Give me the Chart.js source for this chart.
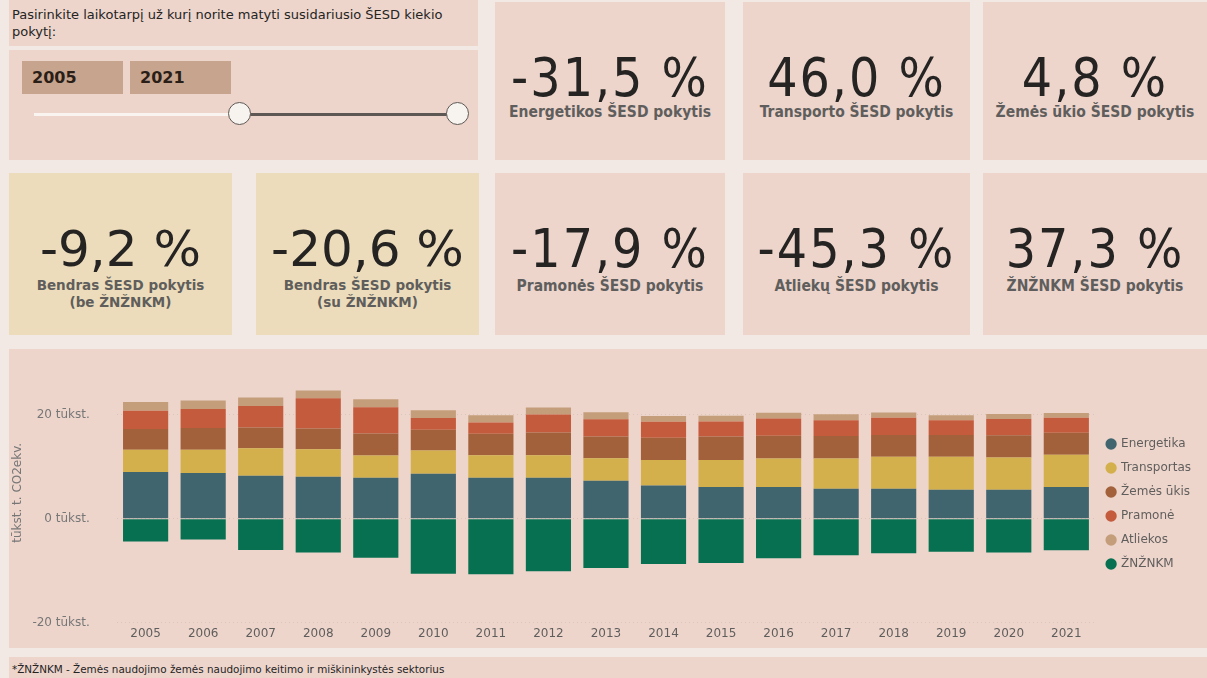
<!DOCTYPE html>
<html>
<head>
<meta charset="utf-8">
<script src="https://cdn.jsdelivr.net/npm/chart.js@4.4.1/dist/chart.umd.min.js"></script>
<style>
  html, body { margin:0; padding:0; }
  body { width:1207px; height:678px; background:#f3e9e4; position:relative; overflow:hidden; font-family:"DejaVu Sans", Verdana, sans-serif; }
  .panel { position:absolute; background:#edd5cc; }
  .beige { background:#ecdcbb; }
  .abs { position:absolute; white-space:nowrap; }
  .num { position:absolute; left:0; right:0; text-align:center; white-space:nowrap; color:#252423; line-height:1; }
  .cond { font-family:"DejaVu Sans Condensed","Liberation Sans Narrow","DejaVu Sans",sans-serif; font-stretch:condensed; }
  .lbl { position:absolute; left:0; right:0; text-align:center; white-space:nowrap; color:#605e5c; line-height:1.15; }
  .datebox { position:absolute; background:#c7a48d; color:#2a1e17; font-weight:bold; font-size:16px; line-height:33px; padding-left:10px; box-sizing:border-box; }
</style>
</head>
<body>
<!-- top-left slicer -->
<div class="panel" style="left:9px; top:0; width:469px; height:46px;"></div>
<div class="abs" id="slicerTitle" style="left:12px; top:6px; font-size:13px; line-height:17px; color:#252423;"></div>
<div class="panel" style="left:9px; top:50px; width:469px; height:110px;"></div>
<div class="datebox" id="d1" style="left:22px; top:61px; width:101px; height:33px;"></div>
<div class="datebox" id="d2" style="left:130px; top:61px; width:101px; height:33px;"></div>
<div class="abs" style="left:34px; top:113px; width:206px; height:3px; background:#faf4f0;"></div>
<div class="abs" style="left:240px; top:113px; width:218px; height:3px; background:#5e5854;"></div>
<div class="abs" style="left:228px; top:102px; width:21px; height:21px; border-radius:50%; background:#f7f3ee; border:1.5px solid #5e5854;"></div>
<div class="abs" style="left:446px; top:102px; width:21px; height:21px; border-radius:50%; background:#f7f3ee; border:1.5px solid #5e5854;"></div>

<div id="cards"></div>

<!-- chart panel -->
<div class="panel" style="left:9px; top:349px; width:1198px; height:299px;">
  <canvas id="c" width="1198" height="299" style="display:block;width:1198px;height:299px;"></canvas>
</div>

<!-- footnote -->
<div class="panel" style="left:9px; top:657px; width:1198px; height:21px;"></div>
<div class="abs" id="foot" style="left:12px; top:663px; font-size:10.4px; line-height:13px; color:#252423;"></div>

<script>
// ---------- data ----------
const years = ['2005','2006','2007','2008','2009','2010','2011','2012','2013','2014','2015','2016','2017','2018','2019','2020','2021'];
const seriesNames = ['Energetika','Transportas','Žemės ūkis','Pramonė','Atliekos','ŽNŽNKM'];
// values in thousand kt CO2 eq. (tūkst.)
const energetika  = [9.0, 8.8, 8.3, 8.1, 7.9, 8.65, 7.9, 7.9, 7.3, 6.4, 6.1, 6.1, 5.8, 5.8, 5.6, 5.6, 6.1];
const transportas = [4.3, 4.5, 5.3, 5.3, 4.3, 4.5, 4.35, 4.35, 4.35, 4.9, 5.2, 5.5, 5.8, 6.15, 6.35, 6.2, 6.25];
const zemesUkis   = [4.0, 4.2, 4.0, 4.0, 4.2, 4.0, 4.1, 4.35, 4.2, 4.3, 4.55, 4.4, 4.35, 4.2, 4.2, 4.3, 4.2];
const pramone     = [3.5, 3.65, 4.1, 5.8, 5.1, 2.25, 2.2, 3.5, 3.3, 3.1, 2.9, 3.3, 3.0, 3.3, 2.8, 3.1, 2.9];
const atliekos    = [1.7, 1.65, 1.65, 1.5, 1.5, 1.5, 1.4, 1.35, 1.35, 1.1, 1.1, 1.1, 1.2, 1.0, 1.0, 1.0, 0.93];
const znznkm      = [-4.4, -4.0, -6.0, -6.5, -7.5, -10.6, -10.7, -10.1, -9.5, -8.7, -8.5, -7.6, -7.05, -6.65, -6.35, -6.5, -6.05];
const yTicks = [-20, 0, 20];
const yTickSuffix = ' tūkst.';
const yTitle = 'tūkst. t. CO2ekv.';
const colors = ['#41656f','#d3b04b','#a2613a','#c45b3d','#c49e7a','#067050'];

// KPI cards
const kpiValues = ['-31,5 %','46,0 %','4,8 %','-9,2 %','-20,6 %','-17,9 %','-45,3 %','37,3 %'];
const kpiLabels = ['Energetikos ŠESD pokytis','Transporto ŠESD pokytis','Žemės ūkio ŠESD pokytis',
  'Bendras ŠESD pokytis<br>(be ŽNŽNKM)','Bendras ŠESD pokytis<br>(su ŽNŽNKM)',
  'Pramonės ŠESD pokytis','Atliekų ŠESD pokytis','ŽNŽNKM ŠESD pokytis'];
const slicerText = 'Pasirinkite laikotarpį už kurį norite matyti susidariusio ŠESD kiekio<br>pokytį:';
const rangeYears = ['2005','2021'];
const footText = '*ŽNŽNKM - Žemės naudojimo žemės naudojimo keitimo ir miškininkystės sektorius';

// ---------- layout of cards ----------
const cardBoxes = [
  {l:495,t:2,w:230,h:158,type:'pink'},
  {l:743,t:2,w:227,h:158,type:'pink'},
  {l:983,t:2,w:224,h:158,type:'pink'},
  {l:9,t:173,w:223,h:162,type:'beige'},
  {l:256,t:173,w:223,h:162,type:'beige'},
  {l:495,t:173,w:230,h:162,type:'pink'},
  {l:743,t:173,w:227,h:162,type:'pink'},
  {l:983,t:173,w:224,h:162,type:'pink'}
];
const cardsEl = document.getElementById('cards');
cardBoxes.forEach((b,i)=>{
  const d = document.createElement('div');
  d.className = 'panel' + (b.type==='beige' ? ' beige' : '');
  d.style.cssText = `left:${b.l}px;top:${b.t}px;width:${b.w}px;height:${b.h}px;`;
  if (b.type === 'pink') {
    d.innerHTML = `<div class="num cond" style="top:49px;font-size:53px;letter-spacing:2px;">${kpiValues[i]}</div>
                   <div class="lbl cond" style="top:${b.t<100?102:105}px;font-size:15.5px;font-weight:bold;">${kpiLabels[i]}</div>`;
  } else {
    d.innerHTML = `<div class="num" style="top:51px;font-size:50px;">${kpiValues[i]}</div>
                   <div class="lbl" style="top:104px;font-size:13.5px;font-weight:bold;line-height:17px;">${kpiLabels[i]}</div>`;
  }
  cardsEl.appendChild(d);
});
document.getElementById('slicerTitle').innerHTML = slicerText;
document.getElementById('d1').textContent = rangeYears[0];
document.getElementById('d2').textContent = rangeYears[1];
document.getElementById('foot').textContent = footText;

// ---------- chart ----------
const seriesData = [energetika, transportas, zemesUkis, pramone, atliekos, znznkm];
Chart.defaults.font.family = '"DejaVu Sans", Verdana, sans-serif';
new Chart(document.getElementById('c'), {
  type: 'bar',
  data: {
    labels: years,
    datasets: seriesNames.map((n,i)=>({
      label: n,
      data: seriesData[i],
      backgroundColor: colors[i],
      borderWidth: 0,
      categoryPercentage: 1,
      barPercentage: 0.785
    }))
  },
  options: {
    responsive: false,
    animation: false,
    layout: { padding: { top: 14, bottom: 3, left: 0, right: 6 } },
    plugins: {
      legend: {
        position: 'right',
        align: 'center',
        labels: { usePointStyle: true, pointStyle: 'circle', boxWidth: 8, boxHeight: 8, padding: 12, color: '#605e5c', font: { size: 12 } }
      },
      tooltip: { enabled: false }
    },
    scales: {
      x: {
        stacked: true,
        grid: { display: false, drawTicks: false },
        border: { display: false },
        ticks: { color: '#605e5c', font: { size: 12 }, padding: 4, maxRotation: 0 }
      },
      y: {
        stacked: true,
        min: -20, max: 30,
        afterBuildTicks: (scale) => { scale.ticks = yTicks.map(v => ({ value: v })); },
        grid: { color: 'rgba(0,0,0,0.08)', drawTicks: true, tickLength: 24, tickColor: 'rgba(0,0,0,0)' },
        border: { display: false, dash: [1, 3] },
        ticks: { color: '#777', font: { size: 12 }, padding: 3, callback: (v) => v + yTickSuffix },
        title: { display: true, text: yTitle, color: '#777', font: { size: 12 }, padding: { top: 2, bottom: 4 } }
      }
    }
  }
});
</script>
</body>
</html>
